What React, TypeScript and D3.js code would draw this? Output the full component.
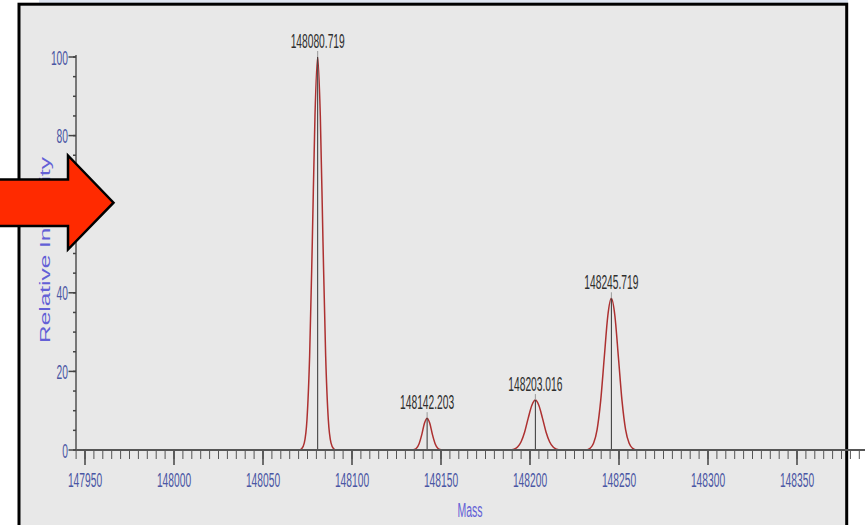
import React from "react";
import * as d3 from "d3";

const W = 865;
const H = 525;

// Tick values
const xTickValues = [147950, 148000, 148050, 148100, 148150, 148200, 148250, 148300, 148350];
const yTickValues = [0, 20, 40, 60, 80, 100];

// Labelled peaks
const peakMass = [148080.719, 148142.203, 148203.016, 148245.719];
const peakIntensity = [100, 8.1, 12.7, 38.6];
const peakLabel = ["148080.719", "148142.203", "148203.016", "148245.719"];

// Profile trace
const traceMass = [
  147945,
  148070.2, 148071.7, 148073.2, 148074.7, 148076.2, 148077.7, 148079.2, 148080.7, 148082.2, 148083.7, 148085.2, 148086.7, 148088.2, 148089.7, 148091.2,
  148133.2, 148134.7, 148136.2, 148137.7, 148139.2, 148140.7, 148142.2, 148143.7, 148145.2, 148146.7, 148148.2, 148149.7, 148151.2,
  148189, 148191, 148193, 148195, 148197, 148199, 148201, 148203, 148205, 148207, 148209, 148211, 148213, 148215, 148217,
  148231.7, 148233.7, 148235.7, 148237.7, 148239.7, 148241.7, 148243.7, 148245.7, 148247.7, 148249.7, 148251.7, 148253.7, 148255.7, 148257.7, 148259.7,
  148388,
];
const traceIntensity = [
  0,
  0, 0.3, 1.8, 7.7, 24, 53, 85, 100, 85, 53, 24, 7.7, 1.8, 0.3, 0,
  0, 0.1, 0.45, 1.6, 3.9, 6.8, 8.1, 6.8, 3.9, 1.6, 0.45, 0.1, 0,
  0, 0.2, 0.75, 2.1, 4.6, 8.1, 11.3, 12.7, 11.3, 8.1, 4.6, 2.1, 0.75, 0.2, 0,
  0, 0.4, 1.7, 5.2, 12.5, 23.4, 34.1, 38.6, 34.1, 23.4, 12.5, 5.2, 1.7, 0.4, 0,
  0,
];

const xAxisTitle = "Mass";
const yAxisTitle = "Relative Intensity";

const FONT = "'Liberation Sans', Arial, sans-serif";
const TICK_COLOR = "#4a56a4";
const TITLE_COLOR = "#6360d6";

export default function App() {
  const x = d3.scaleLinear().domain([147950, 148350]).range([85, 797]);
  const y = d3.scaleLinear().domain([0, 100]).range([450, 57]);

  const xMin = 147945;
  const xMax = 148390;
  const minorX = d3.range(xMin, xMax, 5);
  const minorY = d3.range(0, 101, 5);

  const pts = traceMass.map((m, i) => [m, traceIntensity[i]] as [number, number]);
  const line = d3
    .line<[number, number]>()
    .x((d) => x(d[0]))
    .y((d) => y(d[1]))
    .curve(d3.curveMonotoneX);

  const SX = 0.5;
  const FS = 20.5;

  return (
    <svg
      width={W}
      height={H}
      style={{ position: "absolute", left: 0, top: 0, background: "#fff" }}
      fontFamily={FONT}
    >
      {/* top light strip */}
      <rect x={39} y={0} width={809} height={3} fill="#dfe5f1" />
      {/* frame */}
      <rect x={19} y={4.2} width={827.7} height={H + 10} fill="#e8e8e8" stroke="#000" strokeWidth={3} />

      {/* trace */}
      <path d={line(pts) || ""} fill="none" stroke="#ad3030" strokeWidth={1.5} />

      {/* stick lines */}
      {peakMass.map((m, i) => (
        <g key={"s" + i}>
          <line x1={x(m)} x2={x(m)} y1={y(0)} y2={y(peakIntensity[i])} stroke="#333" strokeWidth={1} />
          <line x1={x(m)} x2={x(m)} y1={y(peakIntensity[i])} y2={y(peakIntensity[i]) - 6} stroke="#999" strokeWidth={1} />
        </g>
      ))}

      {/* peak labels */}
      {peakMass.map((m, i) => (
        <text
          key={"l" + i}
          transform={`translate(${x(m)},${y(peakIntensity[i]) - 9}) scale(${SX},1)`}
          textAnchor="middle"
          fontSize={FS}
          fill="#2e2e2e"
        >
          {peakLabel[i]}
        </text>
      ))}

      {/* y axis */}
      <line x1={76} x2={76} y1={y(100) - 2} y2={y(0)} stroke="#777" strokeWidth={2} />
      {minorY.map((v) => (
        <line key={"ym" + v} x1={73} x2={76} y1={y(v)} y2={y(v)} stroke="#444" strokeWidth={1.5} />
      ))}
      {yTickValues.map((v) => (
        <g key={"yt" + v}>
          <line x1={68.5} x2={76} y1={y(v)} y2={y(v)} stroke="#444" strokeWidth={1.5} />
          <text
            transform={`translate(68,${y(v) + 7.5}) scale(${SX},1)`}
            textAnchor="end"
            fontSize={FS}
            fill={TICK_COLOR}
          >
            {v}
          </text>
        </g>
      ))}

      {/* x axis */}
      {minorX.map((v) => (
        <line key={"xm" + v} x1={x(v)} x2={x(v)} y1={y(0)} y2={y(0) + 9} stroke="#555" strokeWidth={1} />
      ))}
      {xTickValues.map((v) => (
        <g key={"xt" + v}>
          <line x1={x(v)} x2={x(v)} y1={y(0)} y2={y(0) + 15} stroke="#444" strokeWidth={1.5} />
          <text
            transform={`translate(${x(v)},487) scale(${SX},1)`}
            textAnchor="middle"
            fontSize={FS}
            fill={TICK_COLOR}
          >
            {v}
          </text>
        </g>
      ))}
      <line x1={x(xMin)} x2={W} y1={y(0)} y2={y(0)} stroke="#555" strokeWidth={2.2} />

      {/* axis titles */}
      <text
        transform={`translate(470,517) scale(0.5,1)`}
        textAnchor="middle"
        fontSize={21}
        fill={TITLE_COLOR}
      >
        {xAxisTitle}
      </text>
      <text
        transform={`translate(50,250) rotate(-90)`}
        textAnchor="middle"
        fontSize={14.5}
        textLength={186}
        lengthAdjust="spacingAndGlyphs"
        fill={TITLE_COLOR}
      >
        {yAxisTitle}
      </text>

      {/* red arrow annotation */}
      <polygon
        points="-5,179.5 68,179.5 68,155.5 113.5,202.7 68,249.5 68,226 -5,226"
        fill="#ff2a00"
        stroke="#000"
        strokeWidth={2.5}
        strokeLinejoin="miter"
      />
    </svg>
  );
}
